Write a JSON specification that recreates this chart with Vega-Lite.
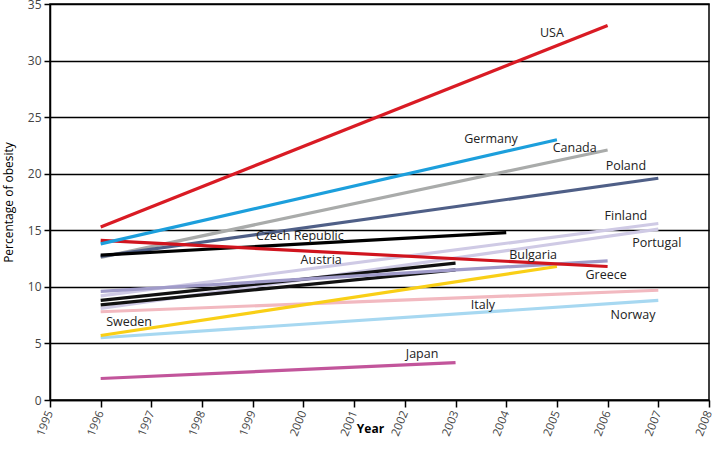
{
  "$schema": "https://vega.github.io/schema/vega-lite/v6.json",
  "width": 659,
  "height": 396,
  "autosize": "none",
  "padding": {"left": 50, "top": 4, "right": 3, "bottom": 60},
  "background": "white",
  "config": {
    "view": {"stroke": "black", "strokeWidth": 1.5},
    "font": "Open Sans"
  },
  "datasets": {
    "lines": [
      {"country": "Japan", "year": 1996, "value": 1.9},
      {"country": "Japan", "year": 2003, "value": 3.3},
      {"country": "Norway", "year": 1996, "value": 5.5},
      {"country": "Norway", "year": 2007, "value": 8.8},
      {"country": "Italy", "year": 1996, "value": 7.8},
      {"country": "Italy", "year": 2007, "value": 9.7},
      {"country": "Portugal", "year": 1996, "value": 8.1},
      {"country": "Portugal", "year": 2007, "value": 15.1},
      {"country": "Other", "year": 1996, "value": 8.4},
      {"country": "Other", "year": 2003, "value": 11.5},
      {"country": "Austria", "year": 1996, "value": 8.8},
      {"country": "Austria", "year": 2003, "value": 12.1},
      {"country": "Finland", "year": 1996, "value": 9.2},
      {"country": "Finland", "year": 2007, "value": 15.6},
      {"country": "Bulgaria", "year": 1996, "value": 9.6},
      {"country": "Bulgaria", "year": 2006, "value": 12.3},
      {"country": "Sweden", "year": 1996, "value": 5.7},
      {"country": "Sweden", "year": 2005, "value": 11.8},
      {"country": "Canada", "year": 1996, "value": 12.6},
      {"country": "Canada", "year": 2006, "value": 22.1},
      {"country": "Poland", "year": 1996, "value": 12.7},
      {"country": "Poland", "year": 2007, "value": 19.6},
      {"country": "Czech Republic", "year": 1996, "value": 12.8},
      {"country": "Czech Republic", "year": 2004, "value": 14.8},
      {"country": "Greece", "year": 1996, "value": 14.1},
      {"country": "Greece", "year": 2006, "value": 11.8},
      {"country": "Germany", "year": 1996, "value": 13.8},
      {"country": "Germany", "year": 2005, "value": 23.0},
      {"country": "USA", "year": 1996, "value": 15.3},
      {"country": "USA", "year": 2006, "value": 33.1}
    ],
    "labels": [
      {"label": "USA", "year": 2004.9, "value": 32.4},
      {"label": "Germany", "year": 2003.7, "value": 23.1},
      {"label": "Canada", "year": 2005.35, "value": 22.3},
      {"label": "Poland", "year": 2006.36, "value": 20.7},
      {"label": "Finland", "year": 2006.36, "value": 16.3},
      {"label": "Portugal", "year": 2006.97, "value": 13.9},
      {"label": "Czech Republic", "year": 1999.93, "value": 14.5},
      {"label": "Austria", "year": 2000.35, "value": 12.4},
      {"label": "Bulgaria", "year": 2004.53, "value": 12.8},
      {"label": "Greece", "year": 2005.97, "value": 11.05},
      {"label": "Italy", "year": 2003.54, "value": 8.4},
      {"label": "Norway", "year": 2006.5, "value": 7.5},
      {"label": "Sweden", "year": 1996.56, "value": 6.9},
      {"label": "Japan", "year": 2002.34, "value": 4.05}
    ]
  },
  "layer": [
    {
      "data": {"name": "lines"},
      "mark": {"type": "line", "strokeCap": "butt"},
      "encoding": {
        "x": {
          "field": "year", "type": "quantitative",
          "scale": {"domain": [1995, 2008], "nice": false, "zero": false},
          "axis": {
            "title": "Year", "titleFontWeight": "bold", "titleFontSize": 12, "titleColor": "black",
            "titleX": 320, "titleY": 28, "titleBaseline": "middle", "titleAlign": "center",
            "values": [1995,1996,1997,1998,1999,2000,2001,2002,2003,2004,2005,2006,2007,2008],
            "format": "d", "labelAngle": -68, "labelAlign": "right", "labelBaseline": "middle",
            "labelFontSize": 11.5, "labelColor": "#444", "labelPadding": 4,
            "domainColor": "black", "domainWidth": 1.5, "tickColor": "black", "tickWidth": 1.5, "tickSize": 7,
            "grid": false, "labelOverlap": false
          }
        },
        "y": {
          "field": "value", "type": "quantitative",
          "scale": {"domain": [0, 35], "nice": false},
          "axis": {
            "title": "Percentage  of obesity", "titleFontWeight": "normal", "titleFontSize": 12, "titleColor": "black",
            "titlePadding": 12,
            "values": [0,5,10,15,20,25,30,35],
            "labelFontSize": 12, "labelColor": "#444", "labelPadding": 3,
            "domainColor": "black", "domainWidth": 1.5, "tickColor": "black", "tickWidth": 1.5, "tickSize": 6,
            "grid": true, "gridColor": "black", "gridWidth": 1.5, "gridOpacity": 1
          }
        },
        "color": {
          "field": "country", "type": "nominal", "legend": null,
          "scale": {
            "domain": ["Japan","Norway","Italy","Portugal","Other","Austria","Finland","Bulgaria","Sweden","Canada","Poland","Czech Republic","Greece","Germany","USA"],
            "range": ["#c2559b","#a7d8f1","#f2b9c0","#cfcae5","#111111","#111111","#cfcae5","#a09bc9","#f9cf16","#a9abaa","#4f5f87","#000000","#d0141e","#1c9fdc","#d91b24"]
          }
        },
        "strokeWidth": {
          "field": "country", "type": "nominal", "legend": null,
          "scale": {
            "domain": ["Japan","Norway","Italy","Portugal","Other","Austria","Finland","Bulgaria","Sweden","Canada","Poland","Czech Republic","Greece","Germany","USA"],
            "range": [3.2,3.2,3.2,3.2,1.8,1.8,3.2,3.2,3.2,3.2,3.2,2.6,3.2,3.2,3.2]
          }
        },
        "order": {"field": "year"}
      }
    },
    {
      "data": {"name": "labels"},
      "mark": {"type": "text", "align": "center", "baseline": "middle", "fontSize": 12.5, "color": "#222"},
      "encoding": {
        "x": {"field": "year", "type": "quantitative"},
        "y": {"field": "value", "type": "quantitative"},
        "text": {"field": "label"}
      }
    }
  ]
}
